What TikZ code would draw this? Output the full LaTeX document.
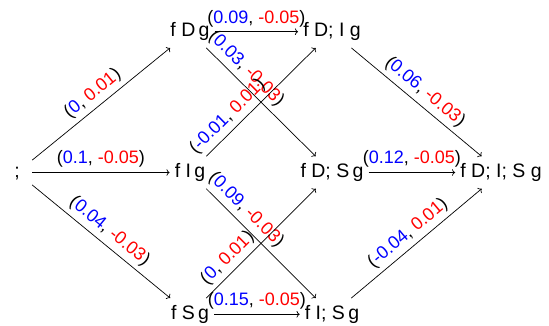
\documentclass[tikz,border=0pt]{standalone}
\usepackage{fontspec}
\setmainfont{Liberation Sans}
\usepackage{xcolor}
\usetikzlibrary{arrows.meta}
\newcommand{\wts}[2]{(\textcolor{blue}{#1}, \textcolor{red}{#2})}

\begin{document}
\begin{tikzpicture}[
  x=1pt,y=1pt,
  set/.style={font=\fontsize{19.5}{22}\selectfont,inner xsep=5pt,inner ysep=7pt,
              text height=14pt,text depth=4pt},
  arr/.style={->,line width=0.7pt},
  wt/.style={font=\fontsize{18}{21}\selectfont,inner sep=2pt,sloped,above=2.5pt}
]
\useasboundingbox (0,0) rectangle (549,325);
% subsets, one column per size
\node[set,minimum width=30pt] (empty) at (17,152.5) {;};
\node[set] (d) at (190,293.3) {f D\,g};
\node[set] (i) at (190,152.5) {f I\,g};
\node[set] (s) at (190,10.7) {f S\,g};
\node[set] (di) at (332,293.3) {f D; I g};
\node[set] (ds) at (332,152.5) {f D; S\,g};
\node[set] (is) at (332,10.7) {f I; S\,g};
\node[set] (dis) at (501,152.5) {f D; I; S g};

\draw[arr] (empty) -- node[wt] {\wts{0}{0.01}} (d);
\draw[arr] (empty) -- node[wt] {\wts{0.1}{-0.05}} (i);
\draw[arr] (empty) -- node[wt] {\wts{0.04}{-0.03}} (s);
\draw[arr] (d) -- node[wt] {\wts{0.09}{-0.05}} (di);
\draw[arr] (d) -- node[wt,pos=0.28] {\wts{0.03}{-0.03}} (ds);
\draw[arr] (i) -- node[wt,pos=0.28] {\wts{-0.01}{0.01}} (di);
\draw[arr] (i) -- node[wt,pos=0.28] {\wts{0.09}{-0.03}} (is);
\draw[arr] (s) -- node[wt,pos=0.28] {\wts{0}{0.01}} (ds);
\draw[arr] (s) -- node[wt] {\wts{0.15}{-0.05}} (is);
\draw[arr] (di) -- node[wt] {\wts{0.06}{-0.03}} (dis);
\draw[arr] (ds) -- node[wt] {\wts{0.12}{-0.05}} (dis);
\draw[arr] (is) -- node[wt] {\wts{-0.04}{0.01}} (dis);
\end{tikzpicture}
\end{document}
